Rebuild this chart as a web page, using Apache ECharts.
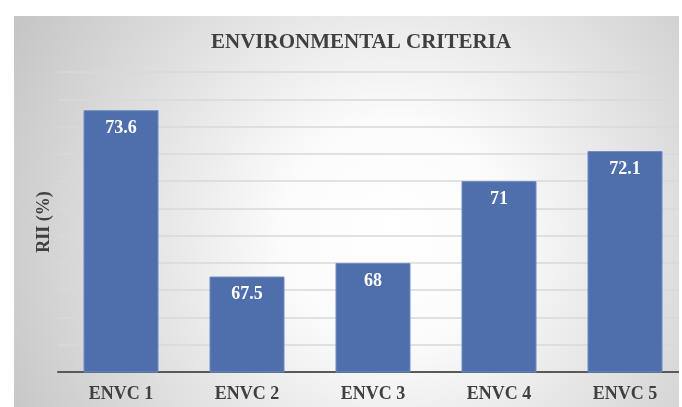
<!DOCTYPE html>
<html>
<head>
<meta charset="utf-8">
<script src="https://cdn.jsdelivr.net/npm/echarts@6/dist/echarts.min.js"></script>
<style>
  html, body { margin: 0; padding: 0; background: #fff; }
  #chart { width: 682px; height: 407px; }
</style>
</head>
<body>
<div id="chart"></div>
<script>
// data
const categories = ['ENVC 1', 'ENVC 2', 'ENVC 3', 'ENVC 4', 'ENVC 5'];
const riiValues = [73.6, 67.5, 68, 71, 72.1];
const yMin = 64;
const yMax = 75;

const serif = '"Liberation Serif", "DejaVu Serif", serif';
const chart = echarts.init(document.getElementById('chart'), null, { renderer: 'canvas' });

const option = {
  backgroundColor: '#ffffff',
  animation: false,
  graphic: [
    // grey radial panel behind the plot
    {
      type: 'rect',
      z: -100,
      silent: true,
      shape: { x: 14, y: 16, width: 665, height: 391 },
      style: {
        fill: {
          type: 'radial', x: 0.57, y: 0.55, r: 1.15,
          colorStops: [
            { offset: 0, color: '#ffffff' },
            { offset: 0.25, color: '#fbfbfb' },
            { offset: 1, color: '#c2c2c2' }
          ]
        }
      }
    },
    // white strip on the right edge
    {
      type: 'rect',
      z: 100,
      silent: true,
      shape: { x: 679, y: 0, width: 10, height: 407 },
      style: { fill: '#ffffff' }
    }
  ],
  title: {
    text: 'ENVIRONMENTAL CRITERIA',
    left: 206,
    top: 27,
    textStyle: {
      fontFamily: serif,
      fontWeight: 'bold',
      fontSize: 21,
      color: '#404040'
    }
  },
  grid: {
    left: 58,
    width: 630,
    top: 72,
    bottom: 35,
    containLabel: false,
    outerBoundsMode: 'none'
  },
  xAxis: {
    type: 'category',
    data: categories,
    axisTick: { show: false },
    axisLine: { lineStyle: { color: '#595959', width: 2 } },
    axisLabel: {
      margin: 13,
      fontFamily: serif,
      fontWeight: 'bold',
      fontSize: 18,
      color: '#404040'
    }
  },
  yAxis: {
    type: 'value',
    min: yMin,
    max: yMax,
    interval: 1,
    name: 'RII (%)',
    nameLocation: 'middle',
    nameRotate: 90,
    nameGap: 5,
    nameTextStyle: {
      fontFamily: serif,
      fontWeight: 'bold',
      fontSize: 18,
      color: '#404040'
    },
    axisLabel: { show: false },
    axisTick: { show: false },
    axisLine: { show: false },
    splitLine: { lineStyle: { color: '#d9d9d9', width: 1.5 } }
  },
  series: [{
    type: 'bar',
    data: riiValues,
    barWidth: 75,
    itemStyle: {
      color: '#4e6fab',
      borderColor: '#6d8cc4',
      borderWidth: 1
    },
    label: {
      show: true,
      position: 'insideTop',
      distance: 9,
      fontFamily: serif,
      fontWeight: 'bold',
      fontSize: 18,
      color: '#ffffff'
    }
  }]
};

chart.setOption(option);
</script>
</body>
</html>
